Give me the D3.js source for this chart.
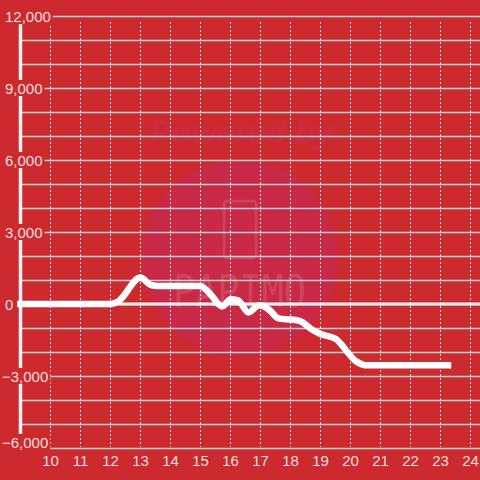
<!DOCTYPE html>
<html><head><meta charset="utf-8">
<script src="https://cdn.jsdelivr.net/npm/d3@7"></script>
<style>html,body{margin:0;padding:0;background:#cc2a2e;}svg{display:block;}</style>
</head><body>
<svg id="chart" width="480" height="480"></svg>
<script>
const hours  = [9, 12.0, 12.25, 13, 13.33, 13.6, 15, 15.3, 15.73, 16.0, 16.25, 16.6, 16.95, 17.3, 17.6, 18.0, 18.3, 18.7, 19.0, 19.5, 20.2, 20.5, 23.25];
const values = [0, 0, 100, 1100, 800, 750, 750, 450, -100, 200, 150, -350, -50, -250, -600, -650, -700, -1050, -1250, -1450, -2400, -2550, -2550];
const yLabelTicks = [-6000, -3000, 0, 3000, 6000, 9000, 12000];
const xTicks = [10, 11, 12, 13, 14, 15, 16, 17, 18, 19, 20, 21, 22, 23, 24];

const W = 480, H = 480;
const svg = d3.select("#chart");
const x = d3.scaleLinear().domain([9, 24.3333]).range([20.5, 480.5]);
const y = d3.scaleLinear().domain([-6000, 12000]).range([448, 16]);
const txt = "#f4dede";

svg.append("rect").attr("width", W).attr("height", H).attr("fill", "#cc2a2e");

// watermark
const wm = svg.append("g");
wm.append("text").attr("x", 150).attr("y", 143).attr("textLength", 183).attr("lengthAdjust", "spacingAndGlyphs")
  .attr("font-family", "Liberation Sans, Arial, sans-serif").attr("font-weight", "bold").attr("font-style", "italic")
  .attr("font-size", 31).attr("fill", "#ce2b42").text("Powered by");
wm.append("circle").attr("cx", 240).attr("cy", 258).attr("r", 98).attr("fill", "#c92946");
wm.append("rect").attr("x", 224).attr("y", 201).attr("width", 32).attr("height", 57).attr("rx", 3)
  .attr("fill", "none").attr("stroke", "rgba(255,255,255,0.13)").attr("stroke-width", 2.5);
wm.append("text").attr("x", 173).attr("y", 307).attr("textLength", 133).attr("lengthAdjust", "spacingAndGlyphs")
  .attr("font-family", "DejaVu Sans Mono, monospace").attr("font-size", 44)
  .attr("fill", "rgba(255,255,255,0.13)").text("PAPIMO");

// horizontal gridlines
const gridVals = d3.range(-6000, 12001, 1000);
svg.append("g").selectAll("line").data(gridVals).join("line")
  .attr("x1", 20).attr("x2", W).attr("y1", d => Math.round(y(d)) + 0.5).attr("y2", d => Math.round(y(d)) + 0.5)
  .attr("stroke", "#cfcfcf").attr("stroke-width", 1.5);

// vertical dashed gridlines
svg.append("g").selectAll("line").data(xTicks).join("line")
  .attr("x1", d => x(d)).attr("x2", d => x(d)).attr("y1", 22).attr("y2", 447)
  .attr("stroke", "#e6e6e6").attr("stroke-width", 1).attr("stroke-dasharray", "2,2");

// zero line
svg.append("line").attr("x1", 17).attr("x2", W).attr("y1", y(0)).attr("y2", y(0))
  .attr("stroke", "#f7f7f7").attr("stroke-width", 3);

// y axis line
svg.append("line").attr("x1", 20.5).attr("x2", 20.5).attr("y1", 16).attr("y2", 448)
  .attr("stroke", "#f2f2f2").attr("stroke-width", 3.5);

// data line
const pts = hours.map((h, i) => [h, values[i]]);
svg.append("path").datum(pts)
  .attr("d", d3.line().x(d => x(d[0])).y(d => y(d[1])).curve(d3.curveMonotoneX))
  .attr("fill", "none").attr("stroke", "#ffffff").attr("stroke-width", 6.5)
  .attr("stroke-linejoin", "round").attr("stroke-linecap", "square");

// y labels with background
const fmt = d3.format(",");
const labelY = d => y(d) - (d === -6000 ? 6 : 0);
const yl = svg.append("g").selectAll("g").data(yLabelTicks).join("g");
yl.append("text")
  .attr("x", d => d < 0 ? 2 : 5).attr("y", d => labelY(d) + 5.5)
  .attr("font-family", "Liberation Sans, Arial, sans-serif").attr("font-size", 15)
  .attr("fill", txt).text(d => fmt(d));
yl.each(function(d) {
  const t = d3.select(this).select("text").node();
  const bb = t.getBBox();
  d3.select(this).insert("rect", "text").attr("x", 0).attr("y", labelY(d) - 8)
    .attr("width", bb.x + bb.width + 2).attr("height", d === -6000 ? 22 : 16).attr("fill", "#cc2a2e");
});

// x labels
svg.append("g").selectAll("text").data(xTicks).join("text")
  .attr("x", d => x(d)).attr("y", 466).attr("text-anchor", "middle")
  .attr("font-family", "Liberation Sans, Arial, sans-serif").attr("font-size", 15)
  .attr("fill", txt).text(d => d);
</script>
</body></html>
